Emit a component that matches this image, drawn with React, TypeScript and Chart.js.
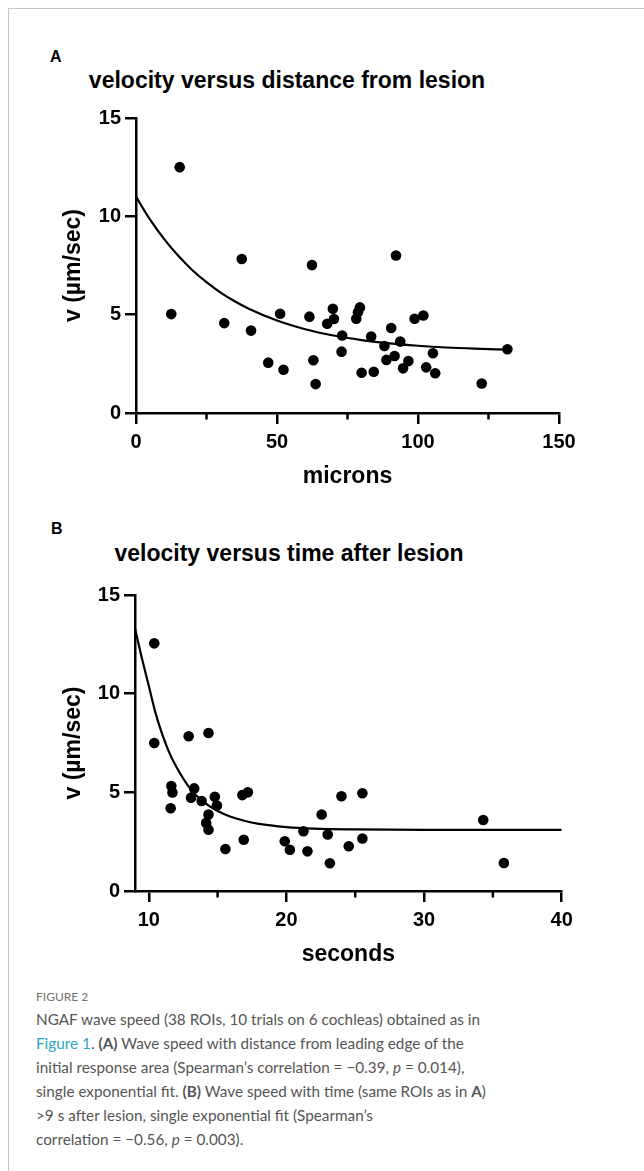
import React, { useEffect, useRef } from 'react';
import { Chart, registerables } from 'chart.js';

Chart.register(...registerables);

// ---------- Data ----------
// Panel A: velocity versus distance from lesion
const distanceMicrons = [12.5, 15.5, 31.3, 37.5, 40.8, 46.9, 51.1, 52.3, 61.5, 62.4, 62.9, 63.7, 67.8, 69.8, 70.2, 72.9, 73.1, 78.1, 78.7, 79.4, 80.0, 83.4, 84.3, 88.1, 88.8, 90.5, 91.7, 92.2, 93.7, 94.7, 96.6, 98.8, 101.9, 102.9, 105.3, 106.1, 122.6, 131.7];
const distanceVelocity = [5.03, 12.5, 4.57, 7.83, 4.19, 2.56, 5.05, 2.2, 4.9, 7.52, 2.68, 1.47, 4.54, 5.3, 4.78, 3.12, 3.94, 4.79, 5.12, 5.37, 2.05, 3.89, 2.1, 3.41, 2.7, 4.32, 2.9, 8.01, 3.63, 2.27, 2.64, 4.79, 4.96, 2.32, 3.04, 2.02, 1.5, 3.24];
const distanceFitX = [0, 5, 10, 15, 20, 25, 30, 35, 40, 50, 60, 70, 80, 90, 100, 110, 120, 131.7];
const distanceFitY = [11.0, 9.83, 8.84, 7.99, 7.26, 6.65, 6.12, 5.68, 5.3, 4.7, 4.26, 3.94, 3.71, 3.54, 3.42, 3.33, 3.27, 3.22];

// Panel B: velocity versus time after lesion
const timeSeconds = [10.4, 10.4, 12.9, 14.34, 11.59, 11.64, 11.72, 13.07, 13.3, 13.84, 14.34, 14.17, 14.34, 14.8, 14.95, 15.57, 16.8, 17.2, 16.9, 19.88, 20.25, 21.24, 21.53, 22.56, 23.0, 23.16, 24.0, 24.53, 25.52, 25.52, 34.3, 35.8];
const timeVelocity = [12.55, 7.5, 7.84, 8.01, 4.19, 5.32, 4.99, 4.73, 5.2, 4.56, 3.88, 3.45, 3.11, 4.77, 4.33, 2.13, 4.86, 5.0, 2.6, 2.52, 2.09, 3.03, 2.01, 3.88, 2.86, 1.41, 4.8, 2.27, 4.95, 2.66, 3.6, 1.42];
const timeFitX = [9, 9.5, 10, 10.5, 11, 11.5, 12, 13, 14, 15, 16, 17, 18, 20, 22, 25, 30, 35, 40];
const timeFitY = [13.3, 11.8, 10.4, 9.0, 7.9, 7.0, 6.3, 5.2, 4.5, 4.05, 3.75, 3.55, 3.4, 3.24, 3.16, 3.12, 3.1, 3.1, 3.1];

// Axes
const velocityTicks = [0, 5, 10, 15];
const distanceTicks = [0, 50, 100, 150];
const distanceMinorTicks = [25, 75, 125];
const timeTicks = [10, 20, 30, 40];
const timeMinorTicks = [15, 25, 35];

const FONT = "'Liberation Sans', Arial, Helvetica, sans-serif";
const CAPTION_FONT = "Lato, 'Open Sans', sans-serif";

function minorTickPlugin(values: number[]) {
  return {
    id: 'minorTicks',
    afterDraw(chart: any) {
      const s = chart.scales.x;
      const ctx = chart.ctx;
      const y0 = chart.chartArea.bottom;
      ctx.save();
      ctx.strokeStyle = '#000';
      ctx.lineWidth = 2.5;
      values.forEach((v) => {
        const px = s.getPixelForValue(v);
        ctx.beginPath();
        ctx.moveTo(px, y0);
        ctx.lineTo(px, y0 + 6.5);
        ctx.stroke();
      });
      ctx.restore();
    },
  };
}

type PanelProps = {
  top: number;
  xs: number[];
  ys: number[];
  fitX: number[];
  fitY: number[];
  xMin: number;
  xMax: number;
  xMajor: number[];
  xMinor: number[];
  xTitle: string;
  yAxisWidth: number;
  padTop: number;
  padRight: number;
  padBottom: number;
};

const CANVAS_W = 644;
const CANVAS_H = 410;

function ScatterPanel(p: PanelProps) {
  const ref = useRef<HTMLCanvasElement>(null);
  useEffect(() => {
    const pts = p.xs.map((x, i) => ({ x, y: p.ys[i] }));
    const fit = p.fitX.map((x, i) => ({ x, y: p.fitY[i] }));
    const chart = new Chart(ref.current as HTMLCanvasElement, {
      type: 'scatter',
      data: {
        datasets: [
          {
            data: fit,
            showLine: true,
            borderColor: '#000',
            borderWidth: 2.2,
            pointRadius: 0,
            pointHoverRadius: 0,
            cubicInterpolationMode: 'monotone',
            fill: false,
            order: 2,
          } as any,
          {
            data: pts,
            showLine: false,
            pointRadius: 5.3,
            pointBackgroundColor: '#000',
            pointBorderColor: '#000',
            pointBorderWidth: 0,
            order: 1,
          } as any,
        ],
      },
      options: {
        responsive: false,
        animation: false,
        devicePixelRatio: 1,
        layout: { padding: { left: 0, right: p.padRight, top: p.padTop, bottom: p.padBottom } },
        plugins: { legend: { display: false }, tooltip: { enabled: false }, title: { display: false } },
        scales: {
          x: {
            type: 'linear',
            position: 'bottom',
            min: p.xMin,
            max: p.xMax,
            afterBuildTicks: (s: any) => {
              s.ticks = p.xMajor.map((v) => ({ value: v }));
            },
            afterFit: (s: any) => {
              s.height = 77.8;
            },
            grid: {
              drawOnChartArea: false,
              drawTicks: true,
              tickLength: 11,
              tickWidth: 2.5,
              tickColor: '#000',
              color: '#000',
              lineWidth: 2.5,
            },
            border: { display: true, color: '#000', width: 2.5 },
            ticks: {
              color: '#000',
              font: { family: FONT, size: 20, weight: 'bold', lineHeight: 1.2 },
              padding: 6,
              maxRotation: 0,
              autoSkip: false,
            },
            title: {
              display: true,
              text: p.xTitle,
              color: '#000',
              font: { family: FONT, size: 23, weight: 'bold', lineHeight: 1.2 },
              padding: { top: 0, bottom: 0 },
            },
          } as any,
          y: {
            type: 'linear',
            position: 'left',
            min: 0,
            max: 15,
            afterBuildTicks: (s: any) => {
              s.ticks = velocityTicks.map((v) => ({ value: v }));
            },
            afterFit: (s: any) => {
              s.width = p.yAxisWidth;
            },
            grid: {
              drawOnChartArea: false,
              drawTicks: true,
              tickLength: 11,
              tickWidth: 2.5,
              tickColor: '#000',
              color: '#000',
              lineWidth: 2.5,
            },
            border: { display: true, color: '#000', width: 2.5 },
            ticks: {
              color: '#000',
              font: { family: FONT, size: 20, weight: 'bold', lineHeight: 1.2 },
              padding: 4,
              autoSkip: false,
            },
            title: {
              display: true,
              text: 'v (µm/sec)',
              color: '#000',
              font: { family: FONT, size: 23, weight: 'bold', lineHeight: 1.2 },
              padding: { top: 59.4, bottom: 0 },
            },
          } as any,
        },
      },
      plugins: [minorTickPlugin(p.xMinor)],
    });
    return () => chart.destroy();
  }, []);
  return (
    <canvas
      ref={ref}
      width={CANVAS_W}
      height={CANVAS_H}
      style={{ position: 'absolute', left: 0, top: p.top, width: CANVAS_W, height: CANVAS_H }}
    />
  );
}

const panelLetter: React.CSSProperties = {
  position: 'absolute',
  fontFamily: FONT,
  fontWeight: 'bold',
  fontSize: 16,
  lineHeight: '16px',
  color: '#000',
};

const panelTitle: React.CSSProperties = {
  position: 'absolute',
  fontFamily: FONT,
  fontWeight: 'bold',
  fontSize: 23,
  lineHeight: '23px',
  color: '#000',
  whiteSpace: 'nowrap',
  transform: 'translateX(-50%)',
};

const captionLine: React.CSSProperties = {
  whiteSpace: 'nowrap',
};

export default function App() {
  return (
    <div
      style={{
        position: 'absolute',
        left: 0,
        top: 0,
        width: 644,
        height: 1171,
        overflow: 'hidden',
        background: '#fff',
      }}
    >
      <div
        style={{
          position: 'absolute',
          left: 8,
          top: 8,
          width: 800,
          height: 1300,
          borderTop: '1.5px solid #c6c6c6',
          borderLeft: '1.5px solid #c6c6c6',
        }}
      />

      <div style={{ ...panelLetter, left: 50, top: 48.5 }}>A</div>
      <div style={{ ...panelTitle, left: 287, top: 69 }}>velocity versus distance from lesion</div>
      <ScatterPanel
        top={90}
        xs={distanceMicrons}
        ys={distanceVelocity}
        fitX={distanceFitX}
        fitY={distanceFitY}
        xMin={0}
        xMax={150}
        xMajor={distanceTicks}
        xMinor={distanceMinorTicks}
        xTitle="microns"
        yAxisWidth={136}
        padTop={28}
        padRight={85}
        padBottom={9.2}
      />

      <div style={{ ...panelLetter, left: 51, top: 520.5 }}>B</div>
      <div style={{ ...panelTitle, left: 289, top: 542 }}>velocity versus time after lesion</div>
      <ScatterPanel
        top={570}
        xs={timeSeconds}
        ys={timeVelocity}
        fitX={timeFitX}
        fitY={timeFitY}
        xMin={9}
        xMax={40}
        xMajor={timeTicks}
        xMinor={timeMinorTicks}
        xTitle="seconds"
        yAxisWidth={135}
        padTop={25}
        padRight={82.3}
        padBottom={11.2}
      />

      <div
        style={{
          position: 'absolute',
          left: 36,
          top: 991.3,
          fontFamily: CAPTION_FONT,
          fontSize: 12,
          lineHeight: '12px',
          color: '#707070',
          whiteSpace: 'nowrap',
        }}
      >
        FIGURE 2
      </div>
      <div
        style={{
          position: 'absolute',
          left: 36,
          top: 1006.9,
          fontFamily: CAPTION_FONT,
          fontSize: 15.3,
          lineHeight: '24.1px',
          color: '#555',
        }}
      >
        <div style={captionLine}>NGAF wave speed (38 ROIs, 10 trials on 6 cochleas) obtained as in</div>
        <div style={captionLine}>
          <span style={{ color: '#2aa6c5' }}>Figure 1</span>. <b>(A)</b> Wave speed with distance from leading edge of the
        </div>
        <div style={captionLine}>
          initial response area (Spearman’s correlation = −0.39, <i>p</i> = 0.014),
        </div>
        <div style={captionLine}>
          single exponential fit. <b>(B)</b> Wave speed with time (same ROIs as in <b>A</b>)
        </div>
        <div style={captionLine}>&gt;9 s after lesion, single exponential fit (Spearman’s</div>
        <div style={captionLine}>
          correlation = −0.56, <i>p</i> = 0.003).
        </div>
      </div>
    </div>
  );
}
